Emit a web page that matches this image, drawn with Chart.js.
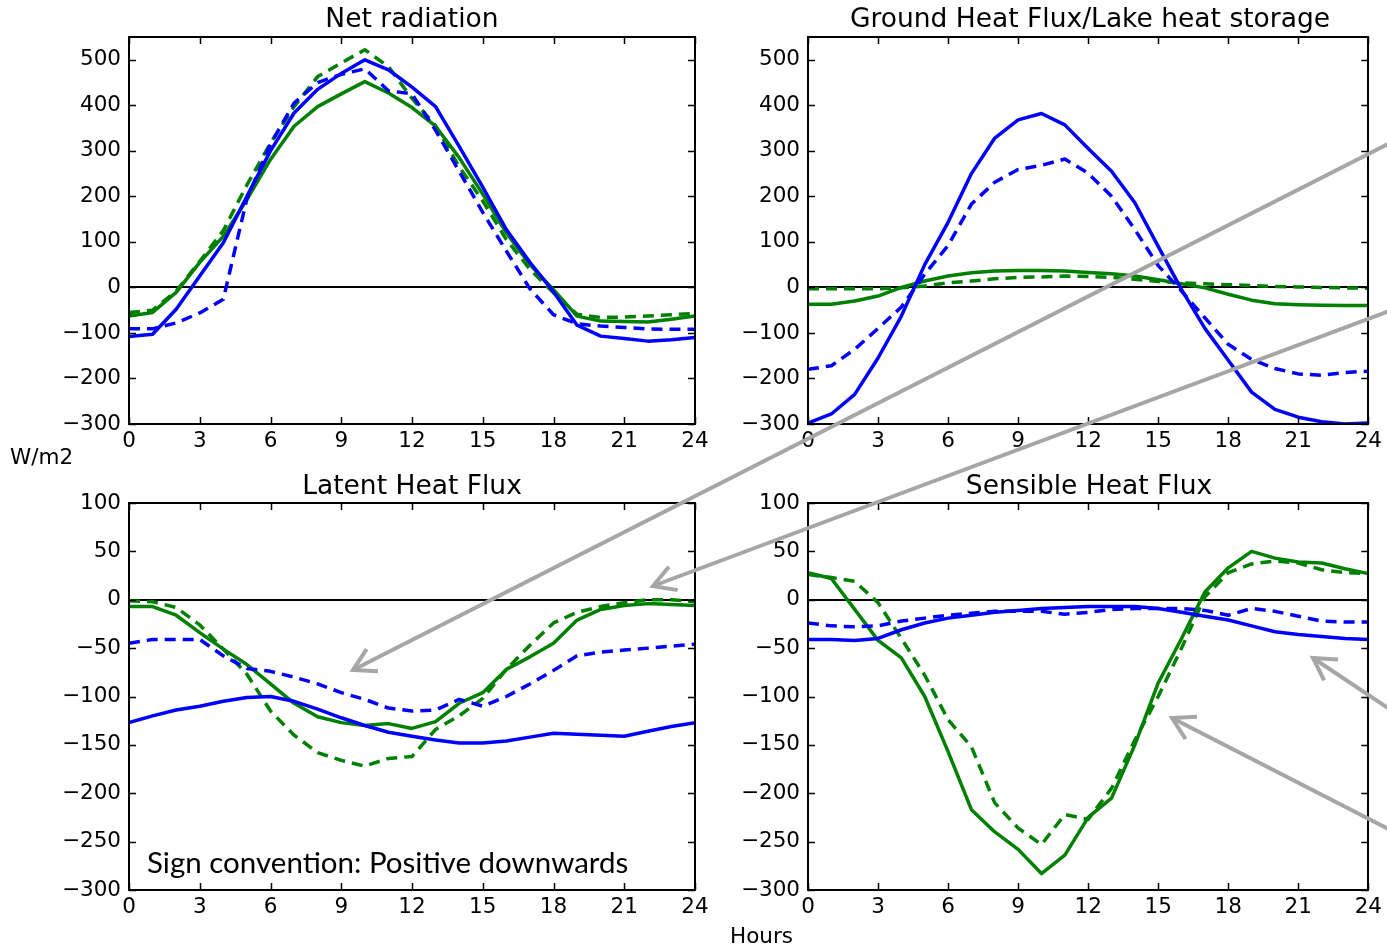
<!DOCTYPE html>
<html><head><meta charset="utf-8">
<script src="https://cdn.jsdelivr.net/npm/chart.js@4.4.1/dist/chart.umd.min.js"></script>
<style>
html,body{margin:0;padding:0;background:#fff;}
body{width:1387px;height:947px;position:relative;overflow:hidden;font-family:"DejaVu Sans",sans-serif;}
.box{position:absolute;}
.txt{position:absolute;white-space:nowrap;color:#000;z-index:5;}
#arrows{position:absolute;left:0;top:0;pointer-events:none;z-index:10;}
</style></head><body>

<div class="box" style="left:0;top:30px"><canvas id="cNet" width="720" height="430"></canvas></div>
<div class="box" style="left:720px;top:30px"><canvas id="cGhf" width="667" height="430"></canvas></div>
<div class="box" style="left:0;top:476px"><canvas id="cLhf" width="720" height="450"></canvas></div>
<div class="box" style="left:720px;top:476px"><canvas id="cShf" width="667" height="450"></canvas></div>

<div class="txt" style="left:112px;width:600px;text-align:center;top:3px;font-size:26.5px;line-height:30px">Net radiation</div>
<div class="txt" style="left:840px;width:500px;text-align:center;top:3px;font-size:26.5px;line-height:30px">Ground Heat Flux/Lake heat storage</div>
<div class="txt" style="left:112px;width:600px;text-align:center;top:470px;font-size:26.5px;line-height:30px">Latent Heat Flux</div>
<div class="txt" style="left:789px;width:600px;text-align:center;top:470px;font-size:26.5px;line-height:30px">Sensible Heat Flux</div>
<div class="txt" style="left:10px;top:445px;font-size:21.5px;line-height:24px">W/m2</div>
<div class="txt" style="left:730px;top:924px;font-size:21.5px;line-height:24px">Hours</div>
<div class="txt" style="left:147px;top:844px;font-family:Lato,'Open Sans',sans-serif;font-size:29.5px;line-height:36px">Sign convention: Positive downwards</div>

<canvas id="arrows" width="1387" height="947"></canvas>

<script>
// ---- data ----
const hours = [0,1,2,3,4,5,6,7,8,9,10,11,12,13,14,15,16,17,18,19,20,21,22,23,24];
const xTicks = [0,3,6,9,12,15,18,21,24];
const yTicksTop = [-300,-200,-100,0,100,200,300,400,500];
const yTicksBottom = [-300,-250,-200,-150,-100,-50,0,50,100];

const netBlueSolid  = [-108,-103,-48,25,98,200,300,383,435,470,500,478,440,397,310,220,127,55,-10,-83,-107,-112,-118,-115,-110];
const netBlueDash   = [-91,-91,-78,-56,-26,195,315,405,450,468,480,432,425,345,255,165,80,-3,-60,-80,-85,-88,-91,-92,-92];
const netGreenSolid = [-63,-55,-11,55,112,193,281,354,397,425,452,427,395,354,285,205,120,50,-5,-63,-74,-75,-76,-70,-63];
const netGreenDash  = [-55,-50,-8,57,125,225,317,397,463,493,522,485,415,355,265,190,105,40,-12,-59,-66,-65,-63,-60,-57];

const ghfBlueSolid  = [-298,-278,-235,-155,-63,50,143,250,328,368,382,357,305,255,186,90,-5,-90,-160,-230,-268,-285,-295,-300,-298];
const ghfBlueDash   = [-180,-172,-136,-90,-43,29,92,183,231,259,268,282,251,200,127,48,-8,-67,-125,-158,-178,-190,-193,-187,-184];
const ghfGreenSolid = [-37,-37,-30,-19,0,14,25,32,36,37,37,36,33,30,25,17,8,-1,-15,-28,-36,-38,-39,-40,-40];
const ghfGreenDash  = [-3,-3,-3,-3,-1,3,10,14,19,22,23,25,24,22,18,13,10,8,6,4,2,1,0,-1,-2];

const lhfBlueSolid  = [-127,-120,-114,-110,-105,-101,-100,-105,-113,-122,-130,-137,-141,-145,-148,-148,-146,-142,-138,-139,-140,-141,-136,-131,-127];
const lhfBlueDash   = [-45,-41,-41,-41,-58,-71,-74,-80,-87,-96,-103,-112,-115,-114,-103,-110,-100,-87,-73,-58,-54,-52,-50,-48,-46];
const lhfGreenSolid = [-7,-7,-16,-34,-51,-67,-87,-107,-121,-127,-130,-128,-133,-126,-107,-96,-72,-59,-45,-21,-10,-6,-4,-5,-6];
const lhfGreenDash  = [-1,-2,-8,-26,-51,-77,-115,-140,-158,-166,-172,-164,-162,-134,-120,-102,-72,-47,-24,-13,-7,-3,0,0,-2];

const shfBlueSolid  = [-41,-41,-42,-40,-31,-24,-19,-16,-13,-11,-9,-8,-7,-7,-7,-9,-13,-17,-21,-27,-33,-36,-38,-40,-41];
const shfBlueDash   = [-24,-27,-28,-27,-22,-19,-16,-14,-12,-12,-12,-15,-13,-10,-9,-9,-9,-11,-16,-9,-12,-17,-22,-23,-23];
const shfGreenSolid = [28,22,-10,-42,-60,-100,-157,-217,-240,-258,-283,-264,-225,-205,-150,-86,-40,8,33,50,43,39,38,32,27];
const shfGreenDash  = [26,23,19,-3,-40,-78,-124,-152,-210,-236,-253,-222,-227,-195,-145,-100,-50,3,28,37,40,38,31,28,27];

// ---- styling ----
const BLUE = '#0000ff', GREEN = '#008000';
const fmt = v => (v < 0 ? '\u2212' + Math.abs(v) : String(v));

function ds(arr, color, dashed) {
  return {
    data: hours.map((h, i) => ({x: h, y: arr[i]})),
    borderColor: color, borderWidth: 3.5,
    borderDash: dashed ? [11, 7] : [],
    borderCapStyle: 'butt', borderJoinStyle: 'round',
    pointRadius: 0, fill: false, tension: 0
  };
}

const framePlugin = {
  id: 'frame',
  beforeDatasetsDraw(chart) {
    const {ctx, chartArea: a, scales} = chart;
    const y0 = Math.round(scales.y.getPixelForValue(0));
    ctx.save();
    ctx.strokeStyle = '#000'; ctx.lineWidth = 2;
    ctx.beginPath(); ctx.moveTo(a.left, y0); ctx.lineTo(a.right, y0); ctx.stroke();
    ctx.restore();
  },
  afterDraw(chart) {
    const {ctx, chartArea: a, scales} = chart;
    ctx.save();
    ctx.strokeStyle = '#000'; ctx.lineWidth = 1.5;
    const L = 7;
    ctx.beginPath();
    scales.y.ticks.forEach(t => {
      const y = Math.round(scales.y.getPixelForValue(t.value)) + 0.5;
      ctx.moveTo(a.left, y); ctx.lineTo(a.left + L, y);
      ctx.moveTo(a.right, y); ctx.lineTo(a.right - L, y);
    });
    scales.x.ticks.forEach(t => {
      const x = Math.round(scales.x.getPixelForValue(t.value)) + 0.5;
      ctx.moveTo(x, a.bottom); ctx.lineTo(x, a.bottom - L);
      ctx.moveTo(x, a.top); ctx.lineTo(x, a.top + L);
    });
    ctx.stroke();
    ctx.lineWidth = 2;
    ctx.strokeRect(Math.round(a.left), Math.round(a.top), Math.round(a.right - a.left), Math.round(a.bottom - a.top));
    ctx.restore();
  }
};

function makeChart(id, datasets, yMin, yMax, yTicks, yWidth, padRight, padTop) {
  const tickFont = {family: 'DejaVu Sans', size: 21.5};
  return new Chart(document.getElementById(id), {
    type: 'line',
    data: {datasets},
    options: {
      responsive: false, animation: false,
      layout: {padding: {left: 0, right: padRight, top: padTop, bottom: 0}},
      plugins: {legend: {display: false}, tooltip: {enabled: false}, title: {display: false}},
      scales: {
        x: {
          type: 'linear', min: 0, max: 24,
          afterBuildTicks: s => { s.ticks = xTicks.map(v => ({value: v})); },
          afterFit: s => { s.height = 36; },
          grid: {display: false, drawTicks: false},
          border: {display: false},
          ticks: {padding: 5, color: '#000', font: tickFont, maxRotation: 0, autoSkip: false, callback: fmt}
        },
        y: {
          type: 'linear', min: yMin, max: yMax,
          afterBuildTicks: s => { s.ticks = yTicks.map(v => ({value: v})); },
          afterFit: s => { s.width = yWidth; s.paddingTop = 0; s.paddingBottom = 0; },
          grid: {display: false, drawTicks: false},
          border: {display: false},
          ticks: {padding: 8, color: '#000', font: tickFont, autoSkip: false, callback: fmt}
        }
      }
    },
    plugins: [framePlugin]
  });
}

makeChart('cNet', [ds(netBlueSolid, BLUE, false), ds(netBlueDash, BLUE, true), ds(netGreenSolid, GREEN, false), ds(netGreenDash, GREEN, true)], -300, 550, yTicksTop, 129, 25, 7);
makeChart('cGhf', [ds(ghfBlueSolid, BLUE, false), ds(ghfBlueDash, BLUE, true), ds(ghfGreenSolid, GREEN, false), ds(ghfGreenDash, GREEN, true)], -300, 550, yTicksTop, 88, 16, 7);
makeChart('cLhf', [ds(lhfBlueSolid, BLUE, false), ds(lhfBlueDash, BLUE, true), ds(lhfGreenSolid, GREEN, false), ds(lhfGreenDash, GREEN, true)], -300, 100, yTicksBottom, 129, 25, 27);
makeChart('cShf', [ds(shfBlueSolid, BLUE, false), ds(shfBlueDash, BLUE, true), ds(shfGreenSolid, GREEN, false), ds(shfGreenDash, GREEN, true)], -300, 100, yTicksBottom, 88, 16, 27);

// ---- annotation arrows ----
(function () {
  const ctx = document.getElementById('arrows').getContext('2d');
  ctx.strokeStyle = '#a6a6a6'; ctx.lineWidth = 4; ctx.lineCap = 'butt'; ctx.lineJoin = 'miter';
  function arrow(x1, y1, x2, y2) {
    ctx.beginPath(); ctx.moveTo(x1, y1); ctx.lineTo(x2, y2); ctx.stroke();
    const ang = Math.atan2(y1 - y2, x1 - x2), len = 25, spread = Math.PI / 6;
    ctx.beginPath();
    ctx.moveTo(x2 + len * Math.cos(ang + spread), y2 + len * Math.sin(ang + spread));
    ctx.lineTo(x2, y2);
    ctx.lineTo(x2 + len * Math.cos(ang - spread), y2 + len * Math.sin(ang - spread));
    ctx.stroke();
  }
  arrow(1400, 138, 353, 670);
  arrow(1400, 307, 653, 586);
  arrow(1400, 716, 1313, 658);
  arrow(1400, 835, 1172, 718);
})();
</script>
</body></html>
